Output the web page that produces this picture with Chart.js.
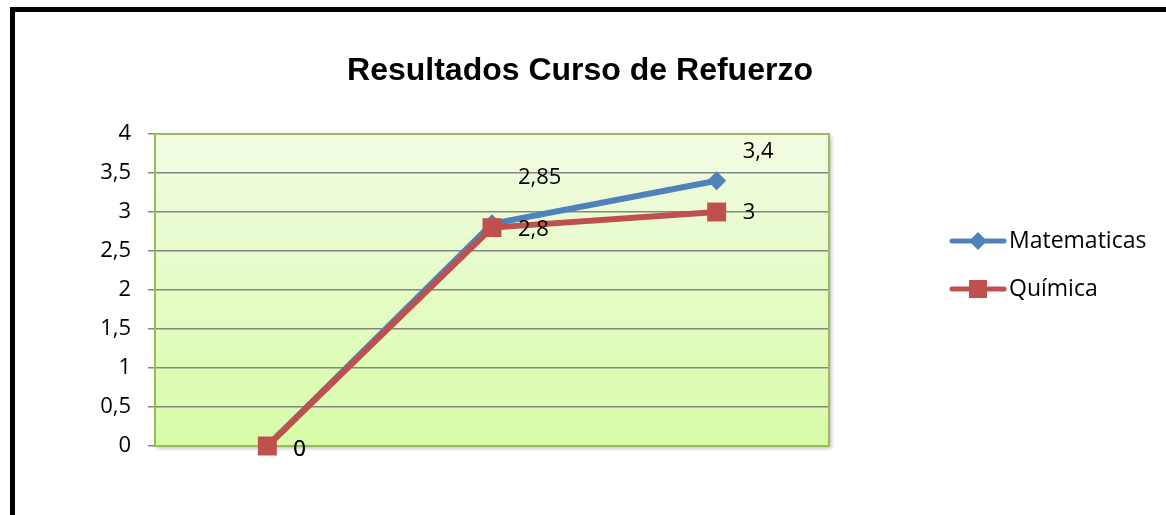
<!DOCTYPE html>
<html>
<head>
<meta charset="utf-8">
<script src="https://cdn.jsdelivr.net/npm/chart.js@4.4.1/dist/chart.umd.min.js"></script>
<style>
  html, body { margin: 0; padding: 0; background: #fff; overflow: hidden; }
  #wrap { width: 1166px; height: 515px; }
</style>
</head>
<body>
<div id="wrap"><canvas id="chart" width="1166" height="515"></canvas></div>
<script>
// Chart data //
var chartTitle = "Resultados Curso de Refuerzo";
var categories = ["1", "2", "3"];
var seriesNames = ["Matematicas", "Química"];
var matematicas = [0, 2.85, 3.4];
var quimica = [0, 2.8, 3];
var yTickLabels = ["0", "0,5", "1", "1,5", "2", "2,5", "3", "3,5", "4"];

var labelFont = "22px 'Open Sans'";
var legendFont = "23px 'Open Sans'";

function fmt(v) {
  return String(v).replace(".", ",");
}

// background, frame, title, value labels and legend
var frame = {
  id: "frame",
  beforeDraw: function(chart) {
    var ctx = chart.ctx, a = chart.chartArea;
    ctx.save();
    ctx.fillStyle = "#fff";
    ctx.fillRect(0, 0, chart.width, chart.height);
    ctx.fillStyle = "#000";
    ctx.fillRect(10, 7, chart.width, 5);
    ctx.fillRect(10, 7, 5, chart.height);
    var g = ctx.createLinearGradient(0, a.top, 0, a.bottom);
    g.addColorStop(0, "#F1FBE2");
    g.addColorStop(1, "#D8FCA8");
    ctx.shadowColor = "rgba(0,0,0,0.3)";
    ctx.shadowBlur = 4;
    ctx.shadowOffsetX = 2;
    ctx.shadowOffsetY = 2;
    ctx.fillStyle = g;
    ctx.fillRect(a.left, a.top, a.right - a.left, a.bottom - a.top);
    ctx.restore();
  },
  beforeDatasetsDraw: function(chart) {
    var ctx = chart.ctx, a = chart.chartArea;
    ctx.save();
    ctx.strokeStyle = "#9BBB59";
    ctx.lineWidth = 2;
    ctx.strokeRect(a.left, a.top, a.right - a.left, a.bottom - a.top);
    ctx.restore();
  },
  afterDraw: function(chart) {
    var ctx = chart.ctx;
    ctx.save();
    // title
    ctx.fillStyle = "#000";
    ctx.font = "bold 32px 'Liberation Sans', Arial, sans-serif";
    ctx.textAlign = "center";
    ctx.textBaseline = "middle";
    ctx.fillText(chartTitle, 580, 71);

    // value labels
    ctx.font = labelFont;
    ctx.textAlign = "left";
    chart.data.datasets.forEach(function(ds, i) {
      var meta = chart.getDatasetMeta(i);
      meta.data.forEach(function(pt, j) {
        ctx.fillText(fmt(ds.data[j]), pt.x + 26, pt.y + ds.labelShift[j]);
      });
    });

    // legend
    ctx.font = legendFont;
    chart.data.datasets.forEach(function(ds, i) {
      var y = 241 + i * 48;
      ctx.strokeStyle = ds.borderColor;
      ctx.lineWidth = 5;
      ctx.lineCap = "round";
      ctx.beginPath();
      ctx.moveTo(952, y);
      ctx.lineTo(1004, y);
      ctx.stroke();
      ctx.fillStyle = ds.pointBackgroundColor;
      ctx.beginPath();
      if (ds.pointStyle === "rectRot") {
        ctx.moveTo(978, y - 9);
        ctx.lineTo(987, y);
        ctx.lineTo(978, y + 9);
        ctx.lineTo(969, y);
        ctx.closePath();
      } else {
        ctx.rect(969, y - 9, 18, 18);
      }
      ctx.fill();
      ctx.fillStyle = "#000";
      ctx.textBaseline = "middle";
      ctx.fillText(ds.label, 1009, y);
    });
    ctx.restore();
  }
};

var ctx = document.getElementById("chart").getContext("2d");
var chart = new Chart(ctx, {
  type: "line",
  data: {
    labels: categories,
    datasets: [{
      label: seriesNames[0],
      data: matematicas,
      borderColor: "#4F81BD",
      backgroundColor: "#4F81BD",
      pointBackgroundColor: "#4F81BD",
      pointBorderColor: "#4F81BD",
      borderWidth: 6,
      pointStyle: "rectRot",
      pointRadius: 9.5,
      pointBorderWidth: 0,
      tension: 0,
      clip: false,
      order: 1,
      labelShift: [4, -46, -29]
    }, {
      label: seriesNames[1],
      data: quimica,
      borderColor: "#C0504D",
      backgroundColor: "#C0504D",
      pointBackgroundColor: "#C0504D",
      pointBorderColor: "#C0504D",
      borderWidth: 6,
      pointStyle: "rect",
      pointRadius: 13.4,
      pointBorderWidth: 0,
      tension: 0,
      clip: false,
      order: 0,
      labelShift: [4, 2, 1]
    }]
  },
  options: {
    responsive: false,
    animation: false,
    devicePixelRatio: 1,
    layout: { padding: { top: 134, right: 337, bottom: 69, left: 0 } },
    plugins: {
      legend: { display: false },
      title: { display: false },
      tooltip: { enabled: false }
    },
    scales: {
      x: {
        type: "category",
        offset: true,
        display: false
      },
      y: {
        min: 0,
        max: 4,
        ticks: {
          stepSize: 0.5,
          color: "#000",
          font: { family: "Open Sans", size: 22 },
          padding: 17,
          callback: function(v, i) { return yTickLabels[i]; }
        },
        grid: { color: "#858585", lineWidth: 1.5, tickLength: 7 },
        border: { display: false },
        afterFit: function(scale) { scale.width = 155; }
      }
    }
  },
  plugins: [frame]
});
</script>
</body>
</html>
